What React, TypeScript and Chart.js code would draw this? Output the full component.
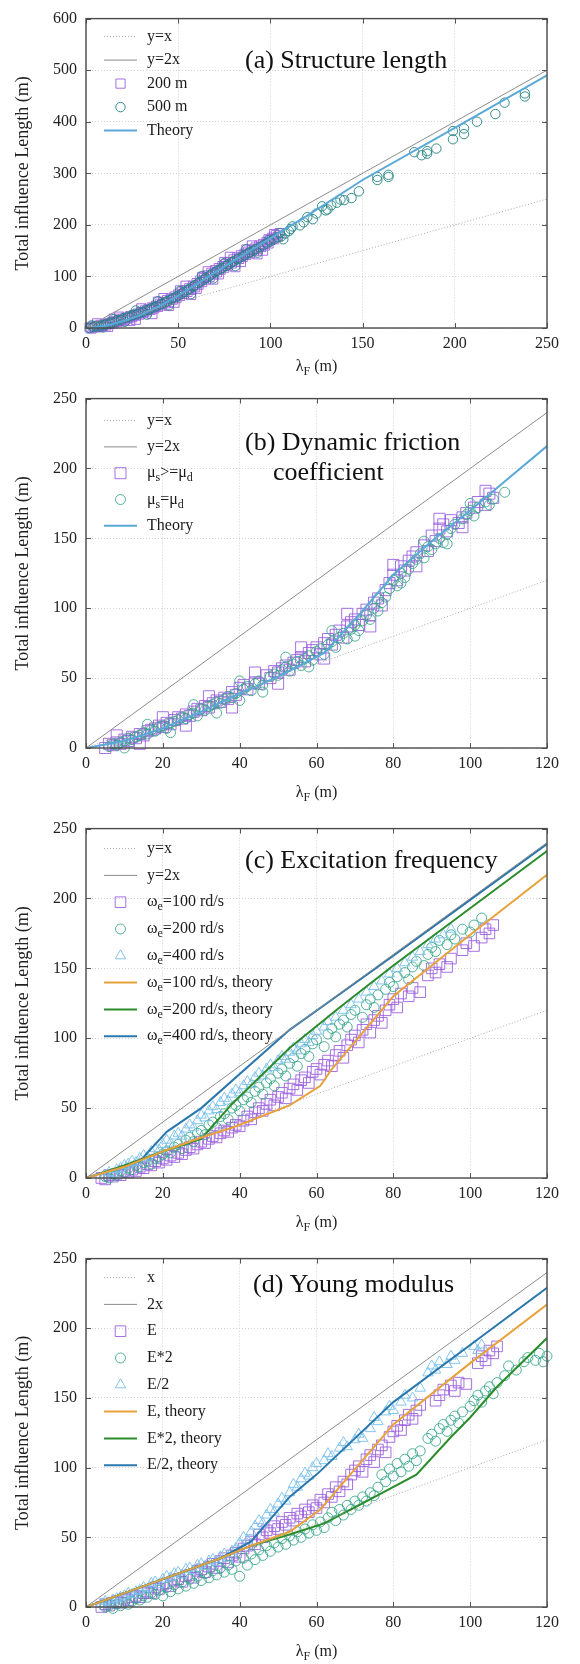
import React, { useEffect, useRef } from 'react';
import { Chart, registerables } from 'chart.js';

Chart.register(...registerables);

type P = [number, number];

const FONT = '"Liberation Serif", "Times New Roman", serif';

// ---------------- (a) Structure length ----------------
const aXTicks = [0, 50, 100, 150, 200, 250];
const aYTicks = [0, 100, 200, 300, 400, 500, 600];
const aLineX: P[] = [[0, 0], [250, 250]];
const aLine2X: P[] = [[0, 0], [250, 500]];
const a200m: P[] = [
  [2, 1], [3, -1], [4, 3], [5, 1], [6, 4], [7, 2], [8, 6], [9, 4], [10, 7], [11, 5], [12, 9], [13, 8], [14, 11], [15, 9],
  [16, 13], [17, 12], [18, 15], [19, 14], [20, 18], [21, 16], [22, 20], [23, 19], [24, 23], [25, 21], [26, 25], [27, 24],
  [28, 28], [29, 26], [30, 31], [31, 29], [32, 34], [33, 32], [34, 37], [35, 35], [36, 40], [37, 38], [38, 43], [39, 41],
  [40, 47], [41, 44], [42, 50], [43, 48], [44, 54], [45, 51], [46, 57], [47, 55], [48, 61], [49, 58], [50, 65], [51, 62],
  [52, 69], [53, 66], [54, 73], [55, 70], [56, 77], [57, 74], [58, 82], [59, 79], [60, 87], [61, 84], [62, 92], [63, 89],
  [64, 97], [65, 94], [66, 102], [67, 99], [68, 107], [69, 104], [70, 112], [71, 108], [72, 116], [73, 113], [74, 120],
  [75, 117], [76, 124], [77, 121], [78, 128], [79, 125], [80, 133], [81, 129], [82, 137], [83, 134], [84, 141], [85, 138],
  [86, 144], [87, 142], [88, 148], [89, 145], [90, 152], [91, 149], [92, 156], [93, 153], [94, 160], [95, 157], [96, 163],
  [97, 160], [98, 167], [99, 164], [100, 171], [101, 175], [102, 172], [103, 180], [104, 177], [105, 184],
  [6, 9], [12, 2], [15, 18], [18, 22], [24, 14], [27, 16], [30, 38], [36, 27], [39, 51], [42, 58], [45, 43], [48, 49],
  [51, 73], [54, 82], [57, 64], [60, 76], [63, 99], [66, 110], [69, 94], [72, 104], [75, 128], [78, 138], [81, 118],
  [84, 128], [87, 152], [90, 160], [93, 143], [96, 150], [99, 172], [102, 182],
];
const a500m: P[] = [
  [2, 0], [4, 2], [5, 4], [7, 3], [8, 5], [10, 6], [11, 8], [13, 9], [14, 11], [16, 12], [17, 15], [19, 16], [20, 19],
  [22, 20], [23, 22], [25, 24], [26, 26], [28, 27], [29, 30], [31, 31], [32, 34], [34, 35], [35, 38], [37, 40], [38, 42],
  [40, 45], [41, 47], [43, 50], [44, 52], [46, 55], [47, 58], [49, 60], [50, 63], [52, 67], [53, 70], [55, 73], [56, 76],
  [58, 80], [59, 83], [61, 87], [62, 90], [64, 94], [65, 97], [67, 101], [68, 104], [70, 108], [71, 111], [73, 114],
  [74, 117], [76, 120], [77, 123], [79, 127], [80, 129], [82, 133], [83, 135], [85, 139], [86, 141], [88, 145], [89, 147],
  [91, 150], [92, 153], [94, 156], [96, 160], [98, 164], [100, 168], [102, 172], [104, 176], [106, 178], [108, 183],
  [3, 5], [9, 1], [15, 17], [21, 12], [27, 34], [33, 26], [39, 52], [45, 44], [51, 72], [57, 66], [63, 101], [69, 96],
  [75, 126], [81, 120], [87, 153], [93, 146], [99, 170], [105, 184], [107, 172],
  [110, 188], [111, 192], [112, 197], [116, 199], [118, 205], [120, 215], [123, 211], [125, 222], [128, 236], [130, 228],
  [131, 230], [133, 238], [136, 243], [138, 249], [140, 248], [144, 252],
  [148, 265], [158, 287], [158, 293], [164, 293], [164, 297], [178, 341], [182, 335], [185, 343], [185, 338], [190, 348],
  [199, 366], [199, 382], [205, 376], [205, 387], [212, 400], [222, 415], [227, 437], [238, 449], [238, 455],
];
const aTheory: P[] = [
  [0, 0], [10, 4], [20, 13], [30, 26], [40, 43], [50, 63], [60, 85], [70, 108], [80, 130], [90, 152], [100, 174],
  [110, 196], [120, 218], [150, 287], [200, 388], [250, 490],
];
const aLabels = ['y=x', 'y=2x', '200 m', '500 m', 'Theory'];
const aTitle = ['(a) Structure length'];

// ---------------- shared axes for (b) (c) (d) ----------------
const xTicks120 = [0, 20, 40, 60, 80, 100, 120];
const yTicks250 = [0, 50, 100, 150, 200, 250];
const lineX120: P[] = [[0, 0], [120, 120]];
const line2X120: P[] = [[0, 0], [120, 240]];

// ---------------- (b) Dynamic friction coefficient ----------------
const bMuGreater: P[] = [
  [5, 0], [6, 3], [7, 2], [8, 4], [9, 3], [10, 6], [11, 5], [12, 8], [13, 7], [14, 10], [15, 9], [16, 12], [17, 13],
  [18, 14], [19, 16], [20, 15], [21, 18], [22, 17], [23, 20], [24, 22], [25, 21], [26, 24], [27, 23], [28, 26], [29, 28],
  [30, 27], [31, 30], [32, 29], [33, 32], [34, 34], [35, 33], [36, 36], [37, 35], [38, 40], [39, 38], [40, 43], [41, 45],
  [42, 42], [44, 47], [45, 46], [47, 52], [48, 50], [49, 55], [50, 54], [51, 57], [52, 59], [53, 56], [54, 61], [55, 63],
  [56, 65], [57, 62], [58, 68], [59, 70], [60, 72], [61, 67], [62, 75], [63, 78], [64, 74], [65, 81], [66, 84], [67, 79],
  [68, 87], [69, 90], [70, 92], [71, 88], [72, 96], [73, 99], [74, 95], [75, 104], [76, 107], [77, 102], [78, 113],
  [79, 118], [80, 124], [81, 120], [82, 130], [83, 127], [84, 134], [85, 137], [86, 140], [88, 145], [89, 141], [90, 152],
  [91, 148], [92, 157], [93, 160], [94, 155], [95, 163], [97, 161], [98, 165], [99, 168], [101, 172], [102, 176],
  [104, 174], [105, 182], [106, 179],
  [8, 9], [14, 3], [20, 22], [26, 16], [32, 37], [38, 29], [44, 54], [50, 46], [56, 72], [62, 64], [68, 96], [74, 87],
  [80, 131], [86, 130], [92, 164], [98, 158], [104, 184],
];
const bMuEqual: P[] = [
  [6, 1], [7, 3], [8, 2], [9, 4], [10, 5], [11, 7], [12, 6], [13, 8], [14, 9], [15, 11], [16, 10], [17, 13], [18, 12],
  [19, 15], [20, 16], [21, 14], [22, 18], [23, 19], [24, 20], [25, 22], [26, 21], [27, 24], [28, 25], [29, 23], [30, 28],
  [31, 27], [32, 30], [33, 31], [34, 33], [35, 32], [36, 35], [37, 37], [38, 36], [39, 39], [40, 34], [41, 42], [42, 44],
  [43, 41], [44, 46], [45, 48], [46, 45], [48, 51], [49, 53], [50, 52], [51, 56], [52, 58], [53, 55], [54, 60], [55, 62],
  [56, 59], [57, 64], [58, 66], [59, 63], [60, 69], [61, 71], [62, 67], [63, 74], [64, 76], [65, 72], [66, 79], [67, 82],
  [68, 78], [69, 85], [70, 88], [71, 84], [72, 91], [73, 95], [74, 92], [75, 100], [76, 98], [77, 104], [78, 108],
  [79, 114], [80, 120], [81, 116], [82, 125], [83, 122], [84, 128], [85, 132], [86, 135], [87, 139], [88, 136], [89, 144],
  [90, 142], [91, 146], [92, 150], [93, 147], [94, 153], [95, 157], [96, 160], [98, 164], [99, 167], [100, 170],
  [101, 166], [102, 172], [104, 176], [105, 174], [106, 178], [109, 183],
  [10, 0], [16, 17], [22, 11], [28, 31], [34, 25], [40, 48], [46, 40], [52, 65], [58, 58], [64, 84], [70, 80], [76, 107],
  [82, 118], [88, 148], [94, 146], [100, 175],
];
const bTheory: P[] = [
  [0, 0], [10, 5], [20, 14], [30, 26], [40, 39], [50, 51], [62, 68], [71, 95], [80, 124], [90, 148], [100, 170],
  [110, 193], [120, 216],
];
const bLabels = ['y=x', 'y=2x', 'μ_s>=μ_d', 'μ_s=μ_d', 'Theory'];
const bTitle = ['(b) Dynamic friction', 'coefficient'];

// ---------------- (c) Excitation frequency ----------------
const cW100: P[] = [
  [4, 0], [5, -1], [6, 2], [7, 1], [8, 3], [9, 2], [10, 5], [11, 4], [12, 6], [13, 5], [14, 8], [15, 7], [16, 10],
  [17, 9], [18, 12], [19, 11], [20, 14], [21, 13], [22, 16], [23, 15], [24, 18], [25, 17], [26, 20], [27, 22], [28, 21],
  [29, 24], [30, 26], [31, 25], [32, 28], [33, 30], [34, 29], [35, 32], [36, 34], [37, 33], [38, 36], [39, 38], [40, 37],
  [41, 41], [42, 44], [43, 42], [44, 47], [45, 50], [46, 48], [47, 53], [48, 56], [49, 52], [50, 58], [51, 61], [52, 57],
  [53, 64], [54, 67], [55, 63], [56, 70], [57, 72], [58, 68], [59, 76], [60, 78], [61, 74], [62, 81], [63, 84], [64, 80],
  [65, 88], [66, 91], [67, 86], [68, 95], [69, 99], [70, 102], [71, 97], [72, 106], [73, 110], [74, 104], [75, 113],
  [76, 116], [77, 111], [78, 120], [79, 124], [80, 128], [81, 122], [82, 132], [84, 130], [85, 136], [87, 133], [89, 145],
  [90, 150], [91, 147], [92, 153], [94, 151], [95, 157], [98, 163], [99, 168], [101, 166], [103, 172], [104, 178],
  [105, 175], [106, 181],
];
const cW200: P[] = [
  [5, 1], [6, 0], [7, 3], [8, 2], [9, 5], [10, 4], [11, 7], [12, 6], [13, 9], [14, 8], [15, 11], [16, 12], [17, 10],
  [18, 14], [19, 15], [20, 17], [21, 19], [22, 18], [23, 22], [24, 24], [25, 21], [26, 27], [27, 29], [28, 26], [29, 32],
  [30, 34], [31, 31], [32, 38], [33, 40], [34, 36], [35, 44], [36, 46], [37, 42], [38, 50], [39, 52], [40, 48], [41, 56],
  [42, 58], [43, 54], [44, 62], [45, 65], [46, 60], [47, 68], [48, 71], [49, 66], [50, 75], [51, 78], [52, 73], [53, 82],
  [54, 86], [55, 80], [56, 89], [57, 92], [58, 87], [59, 96], [60, 99], [62, 94], [63, 103], [64, 107], [65, 101],
  [66, 110], [67, 113], [68, 108], [69, 117], [70, 120], [72, 115], [73, 124], [74, 128], [75, 122], [76, 131], [78, 135],
  [79, 140], [80, 137], [81, 144], [83, 147], [84, 142], [85, 151], [86, 155], [88, 152], [89, 160], [90, 165], [91, 162],
  [92, 170], [94, 167], [95, 174], [96, 171], [98, 178], [100, 176], [101, 181], [103, 186],
];
const cW400: P[] = [
  [5, 2], [6, 4], [7, 3], [8, 6], [9, 7], [10, 9], [11, 10], [12, 12], [13, 11], [14, 14], [15, 16], [16, 15], [17, 19],
  [18, 21], [19, 20], [20, 24], [21, 27], [22, 25], [23, 30], [24, 32], [25, 30], [26, 35], [27, 38], [28, 36], [29, 41],
  [30, 45], [31, 43], [32, 48], [33, 51], [34, 49], [35, 54], [36, 57], [37, 55], [38, 60], [39, 63], [40, 61], [41, 66],
  [42, 69], [43, 67], [44, 72], [45, 75], [46, 73], [47, 78], [48, 81], [49, 79], [50, 84], [51, 87], [52, 85], [53, 90],
  [54, 93], [55, 91], [56, 96], [57, 99], [58, 97], [59, 102], [60, 105], [62, 108], [63, 112], [65, 115], [67, 120],
  [69, 124], [71, 128], [73, 133], [75, 137], [77, 141], [79, 146], [81, 150], [83, 154], [85, 158], [87, 162], [89, 167],
  [91, 171], [93, 174], [95, 178],
];
const cTheory100: P[] = [
  [0, 0], [10, 8], [20, 19], [30, 29], [38, 36], [53, 52], [61, 66], [64, 78], [80, 130], [100, 174], [120, 217],
];
const cTheory200: P[] = [
  [0, 0], [10, 9], [20, 19], [30, 28], [38, 53], [53, 93], [66, 122], [80, 152], [100, 193], [120, 234],
];
const cTheory400: P[] = [
  [0, 0], [8, 7], [14, 12], [21, 33], [30, 50], [53, 106], [80, 159], [100, 199], [120, 239],
];
const cLabels = [
  'y=x', 'y=2x', 'ω_e=100 rd/s', 'ω_e=200 rd/s', 'ω_e=400 rd/s',
  'ω_e=100 rd/s, theory', 'ω_e=200 rd/s, theory', 'ω_e=400 rd/s, theory',
];
const cTitle = ['(c) Excitation frequency'];

// ---------------- (d) Young modulus ----------------
const dE: P[] = [
  [4, 0], [5, 2], [6, 1], [7, 3], [8, 4], [9, 3], [10, 6], [11, 5], [12, 7], [13, 8], [14, 7], [15, 10], [16, 11],
  [17, 10], [18, 14], [19, 13], [20, 16], [21, 17], [22, 15], [23, 19], [24, 20], [25, 18], [26, 22], [27, 23], [28, 21],
  [29, 26], [30, 27], [31, 25], [32, 29], [33, 31], [34, 28], [35, 33], [36, 35], [37, 32], [38, 37], [39, 39], [40, 36],
  [41, 42], [42, 44], [43, 47], [44, 45], [45, 52], [46, 50], [47, 55], [48, 53], [49, 58], [50, 56], [51, 61], [52, 59],
  [53, 64], [54, 62], [55, 67], [56, 65], [57, 70], [58, 68], [59, 73], [60, 71], [61, 77], [62, 75], [63, 81], [64, 79],
  [65, 86], [66, 83], [67, 90], [68, 88], [69, 95], [70, 98], [71, 101], [72, 97], [73, 106], [74, 109], [75, 104],
  [76, 113], [77, 116], [78, 111], [79, 122], [80, 126], [81, 130], [82, 127], [83, 134], [84, 138], [85, 135], [86, 141],
  [87, 145], [91, 148], [92, 152], [93, 156], [95, 159], [96, 155], [97, 161], [99, 160], [102, 175], [103, 180],
  [104, 177], [105, 184], [106, 182], [107, 187],
];
const dE2: P[] = [
  [5, 0], [6, 1], [7, -1], [8, 2], [9, 1], [10, 3], [11, 2], [12, 4], [13, 6], [14, 5], [15, 8], [16, 7], [17, 10],
  [18, 9], [19, 12], [20, 8], [21, 14], [22, 11], [23, 16], [24, 13], [25, 18], [26, 15], [27, 20], [28, 17], [29, 22],
  [30, 19], [31, 24], [32, 21], [33, 26], [34, 23], [35, 28], [36, 25], [37, 30], [38, 27], [39, 33], [40, 22], [41, 35],
  [42, 30], [43, 38], [44, 34], [45, 41], [46, 37], [47, 44], [48, 40], [49, 46], [50, 43], [51, 49], [52, 45], [53, 51],
  [54, 48], [55, 54], [56, 50], [57, 56], [58, 53], [59, 59], [60, 55], [61, 61], [62, 57], [63, 64], [64, 68], [65, 62],
  [66, 70], [67, 66], [68, 73], [69, 70], [70, 76], [71, 73], [72, 79], [73, 76], [74, 82], [75, 80], [76, 86], [77, 95],
  [78, 90], [79, 99], [80, 94], [81, 103], [82, 97], [83, 106], [84, 101], [85, 110], [86, 105], [87, 112], [89, 121],
  [90, 124], [91, 119], [92, 128], [93, 131], [94, 126], [95, 134], [96, 137], [97, 132], [98, 140], [100, 144],
  [101, 148], [102, 152], [103, 147], [104, 155], [105, 158], [106, 153], [107, 161], [109, 166], [110, 173], [112, 170],
  [114, 176], [115, 179], [117, 177], [118, 182], [119, 176], [120, 180],
];
const dEHalf: P[] = [
  [4, 2], [5, 4], [6, 3], [7, 5], [8, 6], [9, 7], [10, 8], [11, 10], [12, 9], [13, 11], [14, 12], [15, 14], [16, 13],
  [17, 17], [18, 18], [19, 16], [20, 20], [21, 22], [22, 21], [23, 24], [24, 25], [25, 23], [26, 27], [27, 28], [28, 26],
  [29, 30], [30, 31], [31, 29], [32, 33], [33, 34], [34, 32], [35, 36], [36, 38], [37, 35], [38, 40], [39, 42], [40, 46],
  [41, 50], [42, 48], [43, 54], [44, 58], [45, 62], [46, 60], [47, 66], [48, 70], [49, 68], [50, 74], [51, 78], [52, 76],
  [53, 82], [54, 88], [55, 86], [56, 92], [57, 96], [58, 94], [59, 100], [60, 103], [62, 105], [63, 110], [64, 108],
  [66, 114], [67, 118], [68, 115], [70, 120], [71, 124], [72, 121], [74, 128], [75, 136], [76, 133], [78, 140], [79, 144],
  [80, 141], [82, 147], [83, 152], [85, 150], [87, 157], [89, 168], [90, 173], [91, 170], [92, 176], [94, 174], [95, 180],
  [96, 177], [98, 182], [101, 187], [102, 184], [103, 188],
];
const dTheoryE: P[] = [
  [0, 0], [20, 20], [35, 35], [43, 44], [53, 54], [61, 70], [70, 99], [80, 131], [100, 175], [120, 217],
];
const dTheoryE2: P[] = [
  [0, 0], [20, 20], [35, 35], [43, 44], [53, 52], [62, 60], [71, 73], [86, 95], [95, 122], [100, 136], [107, 158],
  [120, 193],
];
const dTheoryEHalf: P[] = [
  [0, 0], [20, 20], [35, 35], [43, 47], [53, 79], [60, 95], [80, 147], [100, 188], [120, 229],
];
const dLabels = ['x', '2x', 'E', 'E*2', 'E/2', 'E, theory', 'E*2, theory', 'E/2, theory'];
const dTitle = ['(d) Young modulus'];

const yTitle = 'Total influence Length (m)';
const xTitle = 'λ_F (m)';

// ---------------- styles ----------------
const C_REFX = '#a9a9a9';
const C_REF2X = '#8c8c8c';
const C_SQ = 'rgba(150, 88, 222, 0.85)';
const C_CI = 'rgba(52, 165, 135, 0.85)';
const C_CI_A = 'rgba(36, 132, 130, 0.9)';
const C_TR = 'rgba(120, 192, 235, 0.9)';
const C_TH = '#5aa8d8';
const C_OR = '#e8a23a';
const C_GR = '#2c8c2c';
const C_BL = '#2a77ae';

type Kind = 'line' | 'rect' | 'circle' | 'triangle';
interface Series { data: P[]; kind: Kind; color: string; width?: number; dash?: number[]; r?: number; layer?: number; }
interface Panel {
  top: number; height: number; padTop: number; xAxisH: number;
  xTicks: number[]; yTicks: number[]; series: Series[]; labels: string[];
  title: string[]; titleX: number[]; titleBase: number[];
  legendTop: number; legendStep: number; xTitleOff: number;
}

const dotted = [1, 2];

const panels: Panel[] = [
  {
    top: 0, height: 380, padTop: 12, xAxisH: 52, xTicks: aXTicks, yTicks: aYTicks,
    series: [
      { data: aLineX, kind: 'line', color: C_REFX, width: 1, dash: dotted },
      { data: aLine2X, kind: 'line', color: C_REF2X, width: 1 },
      { data: a200m, kind: 'rect', color: C_SQ, r: 6.5, layer: 3 },
      { data: a500m, kind: 'circle', color: C_CI_A, r: 4.7, layer: 2 },
      { data: aTheory, kind: 'line', color: C_TH, width: 2 },
    ],
    labels: aLabels, title: aTitle, titleX: [245], titleBase: [49],
    legendTop: 18, legendStep: 23.5, xTitleOff: 39,
  },
  {
    top: 380, height: 430, padTop: 10, xAxisH: 62, xTicks: xTicks120, yTicks: yTicks250,
    series: [
      { data: lineX120, kind: 'line', color: C_REFX, width: 1, dash: dotted },
      { data: line2X120, kind: 'line', color: C_REF2X, width: 1 },
      { data: bMuGreater, kind: 'rect', color: C_SQ, r: 7.8, layer: 3 },
      { data: bMuEqual, kind: 'circle', color: C_CI, r: 5, layer: 2 },
      { data: bTheory, kind: 'line', color: C_TH, width: 2 },
    ],
    labels: bLabels, title: bTitle, titleX: [245, 273], titleBase: [51, 81],
    legendTop: 22, legendStep: 26.3, xTitleOff: 45,
  },
  {
    top: 810, height: 430, padTop: 9, xAxisH: 62, xTicks: xTicks120, yTicks: yTicks250,
    series: [
      { data: lineX120, kind: 'line', color: C_REFX, width: 1, dash: dotted },
      { data: line2X120, kind: 'line', color: C_REF2X, width: 1 },
      { data: cW100, kind: 'rect', color: C_SQ, r: 7.5, layer: 3 },
      { data: cW200, kind: 'circle', color: C_CI, r: 5, layer: 2 },
      { data: cW400, kind: 'triangle', color: C_TR, r: 6, layer: 1 },
      { data: cTheory100, kind: 'line', color: C_OR, width: 2 },
      { data: cTheory200, kind: 'line', color: C_GR, width: 2 },
      { data: cTheory400, kind: 'line', color: C_BL, width: 2 },
    ],
    labels: cLabels, title: cTitle, titleX: [245], titleBase: [39],
    legendTop: 20, legendStep: 26.8, xTitleOff: 45,
  },
  {
    top: 1240, height: 424, padTop: 10, xAxisH: 57, xTicks: xTicks120, yTicks: yTicks250,
    series: [
      { data: lineX120, kind: 'line', color: C_REFX, width: 1, dash: dotted },
      { data: line2X120, kind: 'line', color: C_REF2X, width: 1 },
      { data: dE, kind: 'rect', color: C_SQ, r: 7.5, layer: 3 },
      { data: dE2, kind: 'circle', color: C_CI, r: 5, layer: 2 },
      { data: dEHalf, kind: 'triangle', color: C_TR, r: 6, layer: 1 },
      { data: dTheoryE, kind: 'line', color: C_OR, width: 2 },
      { data: dTheoryE2, kind: 'line', color: C_GR, width: 2 },
      { data: dTheoryEHalf, kind: 'line', color: C_BL, width: 2 },
    ],
    labels: dLabels, title: dTitle, titleX: [253], titleBase: [33],
    legendTop: 19, legendStep: 26.8, xTitleOff: 45,
  },
];

// ---------------- helpers ----------------
function parseRich(s: string) {
  const out: { t: string; sub: boolean }[] = [];
  let buf = '';
  for (let i = 0; i < s.length; i++) {
    if (s[i] === '_' && i + 1 < s.length) {
      if (buf) out.push({ t: buf, sub: false });
      buf = '';
      out.push({ t: s[i + 1], sub: true });
      i++;
    } else buf += s[i];
  }
  if (buf) out.push({ t: buf, sub: false });
  return out;
}

function drawRich(ctx: CanvasRenderingContext2D, s: string, x: number, y: number, size: number, center: boolean) {
  const segs = parseRich(s);
  const sub = Math.round(size * 0.72);
  let w = 0;
  for (const g of segs) {
    ctx.font = `${g.sub ? sub : size}px ${FONT}`;
    w += ctx.measureText(g.t).width;
  }
  let cx = center ? x - w / 2 : x;
  ctx.textAlign = 'left';
  ctx.textBaseline = 'middle';
  for (const g of segs) {
    ctx.font = `${g.sub ? sub : size}px ${FONT}`;
    ctx.fillText(g.t, cx, g.sub ? y + size * 0.32 : y);
    cx += ctx.measureText(g.t).width;
  }
}

function drawMarker(ctx: CanvasRenderingContext2D, kind: Kind, x: number, y: number, r: number, color: string) {
  ctx.beginPath();
  if (kind === 'rect') {
    const h = r * Math.SQRT1_2;
    ctx.rect(x - h, y - h, 2 * h, 2 * h);
  } else if (kind === 'circle') {
    ctx.arc(x, y, r, 0, Math.PI * 2);
  } else {
    const h = r;
    ctx.moveTo(x, y - h);
    ctx.lineTo(x + h * Math.sin((2 * Math.PI) / 3), y - h * Math.cos((2 * Math.PI) / 3));
    ctx.lineTo(x + h * Math.sin((4 * Math.PI) / 3), y - h * Math.cos((4 * Math.PI) / 3));
    ctx.closePath();
  }
  ctx.setLineDash([]);
  ctx.lineWidth = 1;
  ctx.strokeStyle = color;
  ctx.stroke();
}

function ChartPanel({ p }: { p: Panel }) {
  const ref = useRef<HTMLCanvasElement | null>(null);
  useEffect(() => {
    const canvas = ref.current;
    if (!canvas) return;
    const datasets = p.series.map((s) => {
      const data = s.data.map(([x, y]) => ({ x, y }));
      if (s.kind === 'line') {
        return {
          data, showLine: true, borderColor: s.color, backgroundColor: s.color, borderWidth: s.width || 1,
          borderDash: s.dash || [], pointRadius: 0, pointHoverRadius: 0, tension: 0, fill: false, order: 0,
        };
      }
      return {
        data, showLine: false, pointStyle: s.kind, pointRadius: s.r || 5, pointHoverRadius: s.r || 5,
        borderColor: s.color, pointBorderColor: s.color, backgroundColor: 'rgba(0,0,0,0)',
        pointBackgroundColor: 'rgba(0,0,0,0)', pointBorderWidth: 1, borderWidth: 1, clip: false, order: s.layer || 1,
      };
    });

    const deco = {
      id: 'deco',
      afterDraw(chart: any) {
        const ctx: CanvasRenderingContext2D = chart.ctx;
        const ca = chart.chartArea;
        const xs = chart.scales.x;
        const ys = chart.scales.y;
        ctx.save();
        ctx.setLineDash([]);
        ctx.strokeStyle = '#555';
        ctx.lineWidth = 1;
        ctx.beginPath();
        for (const v of p.xTicks) {
          const px = Math.round(xs.getPixelForValue(v)) + 0.5;
          ctx.moveTo(px, ca.bottom); ctx.lineTo(px, ca.bottom - 5);
          ctx.moveTo(px, ca.top); ctx.lineTo(px, ca.top + 5);
        }
        for (const v of p.yTicks) {
          const py = Math.round(ys.getPixelForValue(v)) + 0.5;
          ctx.moveTo(ca.left, py); ctx.lineTo(ca.left + 5, py);
          ctx.moveTo(ca.right, py); ctx.lineTo(ca.right - 5, py);
        }
        ctx.stroke();
        ctx.lineWidth = 1.4;
        ctx.strokeStyle = '#4a4a4a';
        ctx.strokeRect(ca.left, ca.top, ca.right - ca.left, ca.bottom - ca.top);

        // legend
        p.series.forEach((s, i) => {
          const y = ca.top + p.legendTop + i * p.legendStep;
          if (s.kind === 'line') {
            ctx.beginPath();
            ctx.setLineDash(s.dash || []);
            ctx.strokeStyle = s.color;
            ctx.lineWidth = s.width || 1;
            ctx.moveTo(ca.left + 18, y);
            ctx.lineTo(ca.left + 51, y);
            ctx.stroke();
            ctx.setLineDash([]);
          } else {
            drawMarker(ctx, s.kind, ca.left + 34.5, y, s.r || 5, s.color);
          }
          ctx.fillStyle = '#1a1a1a';
          drawRich(ctx, p.labels[i], ca.left + 61, y, 16, false);
        });

        // panel title
        ctx.fillStyle = '#111';
        ctx.font = `26px ${FONT}`;
        ctx.textAlign = 'left';
        ctx.textBaseline = 'alphabetic';
        p.title.forEach((t, i) => ctx.fillText(t, p.titleX[i], ca.top + p.titleBase[i]));

        // x title
        ctx.fillStyle = '#222';
        drawRich(ctx, xTitle, (ca.left + ca.right) / 2, ca.bottom + p.xTitleOff, 16, true);
        ctx.restore();
      },
    };

    const xMin = p.xTicks[0];
    const xMax = p.xTicks[p.xTicks.length - 1];
    const yMin = p.yTicks[0];
    const yMax = p.yTicks[p.yTicks.length - 1];

    const chart = new Chart(canvas, {
      type: 'scatter',
      data: { datasets: datasets as any },
      options: {
        animation: false,
        responsive: false,
        devicePixelRatio: 1,
        layout: { padding: { top: p.padTop, right: 33, left: 0, bottom: 0 } },
        plugins: { legend: { display: false }, tooltip: { enabled: false } },
        scales: {
          x: {
            type: 'linear', min: xMin, max: xMax,
            afterFit: (s: any) => { s.height = p.xAxisH; },
            ticks: {
              stepSize: p.xTicks[1] - p.xTicks[0], autoSkip: false, maxRotation: 0, padding: 6,
              font: { family: FONT, size: 16 }, color: '#222',
            },
            grid: { color: '#d2d2d2', drawTicks: false, lineWidth: 1 },
            border: { display: false, dash: [1, 2] },
          },
          y: {
            type: 'linear', min: yMin, max: yMax,
            afterFit: (s: any) => { s.width = 86; },
            ticks: {
              stepSize: p.yTicks[1] - p.yTicks[0], autoSkip: false, padding: 9,
              font: { family: FONT, size: 16 }, color: '#222',
            },
            grid: { color: '#d2d2d2', drawTicks: false, lineWidth: 1 },
            border: { display: false, dash: [1, 2] },
            title: {
              display: true, text: yTitle, color: '#222',
              font: { family: FONT, size: 18, lineHeight: 1.2 }, padding: { top: 12, bottom: 0 },
            },
          },
        },
      } as any,
      plugins: [deco],
    });
    return () => chart.destroy();
  }, [p]);

  return (
    <canvas
      ref={ref}
      width={580}
      height={p.height}
      style={{ position: 'absolute', left: 0, top: p.top, width: 580, height: p.height, display: 'block' }}
    />
  );
}

export default function App() {
  return (
    <div style={{ position: 'absolute', left: 0, top: 0, width: 580, height: 1664, background: '#fff', overflow: 'hidden' }}>
      {panels.map((p, i) => (
        <ChartPanel key={i} p={p} />
      ))}
    </div>
  );
}
